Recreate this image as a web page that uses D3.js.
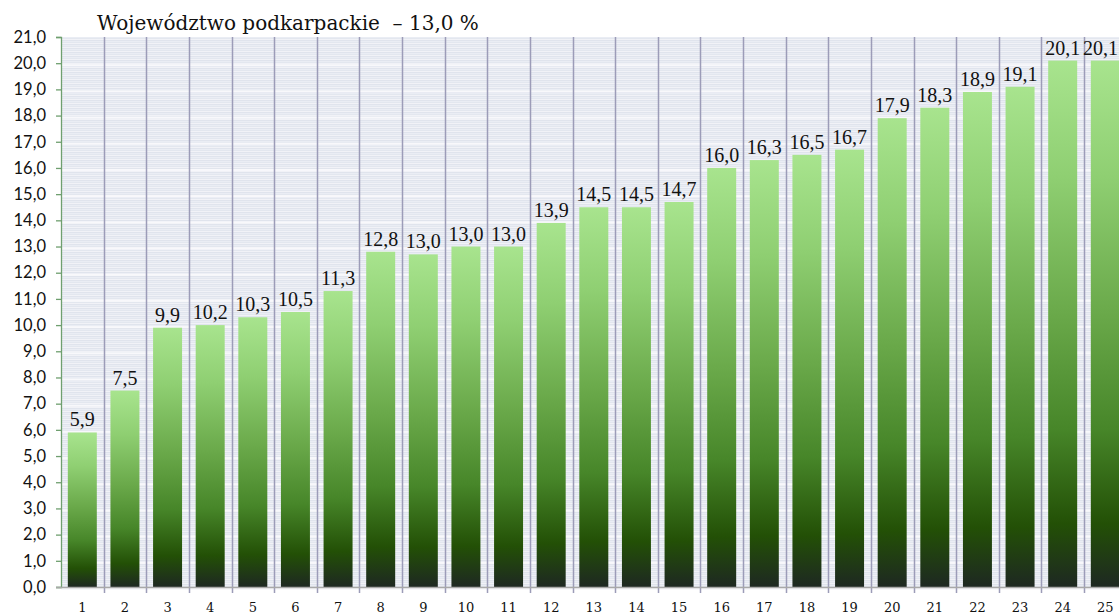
<!DOCTYPE html>
<html>
<head>
<meta charset="utf-8">
<script src="https://cdn.jsdelivr.net/npm/d3@7"></script>
<style>
  body { margin: 0; background: #fff; }
  svg { display: block; }
</style>
</head>
<body>
<div class="view"></div>
<script>
var width = 1119;
var height = 614;

var margin = { top: 37, right: -8, bottom: 27, left: 61 };

var title = "Województwo podkarpackie  – 13,0 %";
var categories = ["1","2","3","4","5","6","7","8","9","10","11","12","13",
                  "14","15","16","17","18","19","20","21","22","23","24","25"];
// bar heights
var values = [5.9, 7.5, 9.9, 10.0, 10.3, 10.5, 11.3, 12.8, 12.7, 13.0, 13.0, 13.9, 14.5,
              14.5, 14.7, 16.0, 16.3, 16.5, 16.7, 17.9, 18.3, 18.9, 19.1, 20.1, 20.1];
// printed data labels
var labels = ["5,9","7,5","9,9","10,2","10,3","10,5","11,3","12,8","13,0","13,0","13,0","13,9","14,5",
              "14,5","14,7","16,0","16,3","16,5","16,7","17,9","18,3","18,9","19,1","20,1","20,1"];
var yTicks = d3.range(0, 22, 1);

var svg = d3.select(".view")
    .append("svg")
    .attr("width", width)
    .attr("height", height);

var defs = svg.append("defs");

// bar gradient, light top to dark bottom
var grad = defs.append("linearGradient")
    .attr("id", "barGrad")
    .attr("x1", 0).attr("y1", 0).attr("x2", 0).attr("y2", 1);
[["0%", "#a8e48e"], ["22%", "#8fcf72"], ["48%", "#6aa94a"], ["70%", "#478629"],
 ["88%", "#235006"], ["100%", "#1e2822"]].forEach(function (s) {
    grad.append("stop").attr("offset", s[0]).attr("stop-color", s[1]);
});

// striped plot background
var pat = defs.append("pattern")
    .attr("id", "stripes")
    .attr("patternUnits", "userSpaceOnUse")
    .attr("width", 8).attr("height", 4);
["#e0e4ed", "#eaedf4", "#e3e7ef", "#f1f2f7"].forEach(function (c, i) {
    pat.append("rect").attr("x", 0).attr("y", i).attr("width", 8).attr("height", 1).attr("fill", c);
});

var x = d3.scaleBand()
    .domain(categories)
    .range([margin.left, margin.left + 25 * 42.625])
    .padding(0);

var y = d3.scaleLinear()
    .domain([0, 21])
    .range([height - margin.bottom, margin.top]);

var plotRight = width;

svg.append("rect")
    .attr("x", margin.left)
    .attr("y", y(21))
    .attr("width", plotRight - margin.left)
    .attr("height", y(0) - y(21))
    .attr("fill", "url(#stripes)");

// lighter bands at the major ticks
svg.append("g")
    .selectAll("rect")
    .data(yTicks.slice(0, -1))
    .enter().append("rect")
    .attr("x", margin.left)
    .attr("y", function (d) { return y(d) + 1; })
    .attr("width", plotRight - margin.left)
    .attr("height", 2)
    .attr("fill", "#f8f8fb");

// vertical gridlines at category boundaries
svg.append("g")
    .selectAll("line")
    .data(categories.slice(1))
    .enter().append("line")
    .attr("x1", function (d) { return Math.round(x(d)) + 0.5; })
    .attr("x2", function (d) { return Math.round(x(d)) + 0.5; })
    .attr("y1", y(21))
    .attr("y2", y(0) + 6)
    .attr("stroke", "#9c9cb8")
    .attr("stroke-width", 1.5);

var barW = x.bandwidth() * 0.68;

svg.append("g")
    .selectAll("rect")
    .data(values)
    .enter().append("rect")
    .attr("x", function (d, i) { return x(categories[i]) + (x.bandwidth() - barW) / 2; })
    .attr("y", function (d) { return y(d); })
    .attr("width", barW)
    .attr("height", function (d) { return y(0) - y(d); })
    .attr("fill", "url(#barGrad)");

// left axis
var yAxis = svg.append("g")
    .attr("transform", "translate(" + margin.left + ",0)")
    .call(d3.axisLeft(y)
        .tickValues(yTicks)
        .tickSize(5)
        .tickPadding(10)
        .tickFormat(function (d) { return d.toFixed(1).replace(".", ","); }));
yAxis.selectAll("line, path").attr("stroke", "#6f9f6f").attr("stroke-width", 1.3);
yAxis.selectAll("text")
    .attr("font-family", "Lato, 'Open Sans', sans-serif")
    .attr("font-size", "16.5px")
    .attr("fill", "#111");

// bottom axis
var xAxis = svg.append("g")
    .attr("transform", "translate(0," + y(0) + ")");
xAxis.append("line")
    .attr("x1", margin.left - 5)
    .attr("x2", plotRight)
    .attr("y1", 0.5).attr("y2", 0.5)
    .attr("stroke", "#a8a8a8")
    .attr("stroke-width", 1.3);
xAxis.selectAll("text")
    .data(categories)
    .enter().append("text")
    .attr("x", function (d) { return x(d) + x.bandwidth() / 2; })
    .attr("y", 25)
    .attr("text-anchor", "middle")
    .attr("font-family", "'DejaVu Serif', serif")
    .attr("font-size", "13px")
    .attr("fill", "#111")
    .text(function (d) { return d; });

// data labels
var labelG = svg.append("g")
    .attr("font-family", "'Liberation Serif', serif")
    .attr("font-size", "20px")
    .attr("fill", "#111")
    .attr("text-anchor", "middle");

labelG.selectAll("text")
    .data(values)
    .enter().append("text")
    .text(function (d, i) { return labels[i]; })
    .attr("y", function (d) { return y(d) - 6; })
    .attr("x", function (d, i) {
        var cx = x(categories[i]) + x.bandwidth() / 2;
        var w = this.getComputedTextLength();
        return Math.min(cx, width - w / 2 - 1);
    });

svg.append("text")
    .attr("x", 97)
    .attr("y", 30)
    .attr("font-family", "'DejaVu Serif', serif")
    .attr("font-size", "20px")
    .attr("fill", "#111")
    .attr("xml:space", "preserve")
    .style("white-space", "pre")
    .text(title);
</script>
</body>
</html>
